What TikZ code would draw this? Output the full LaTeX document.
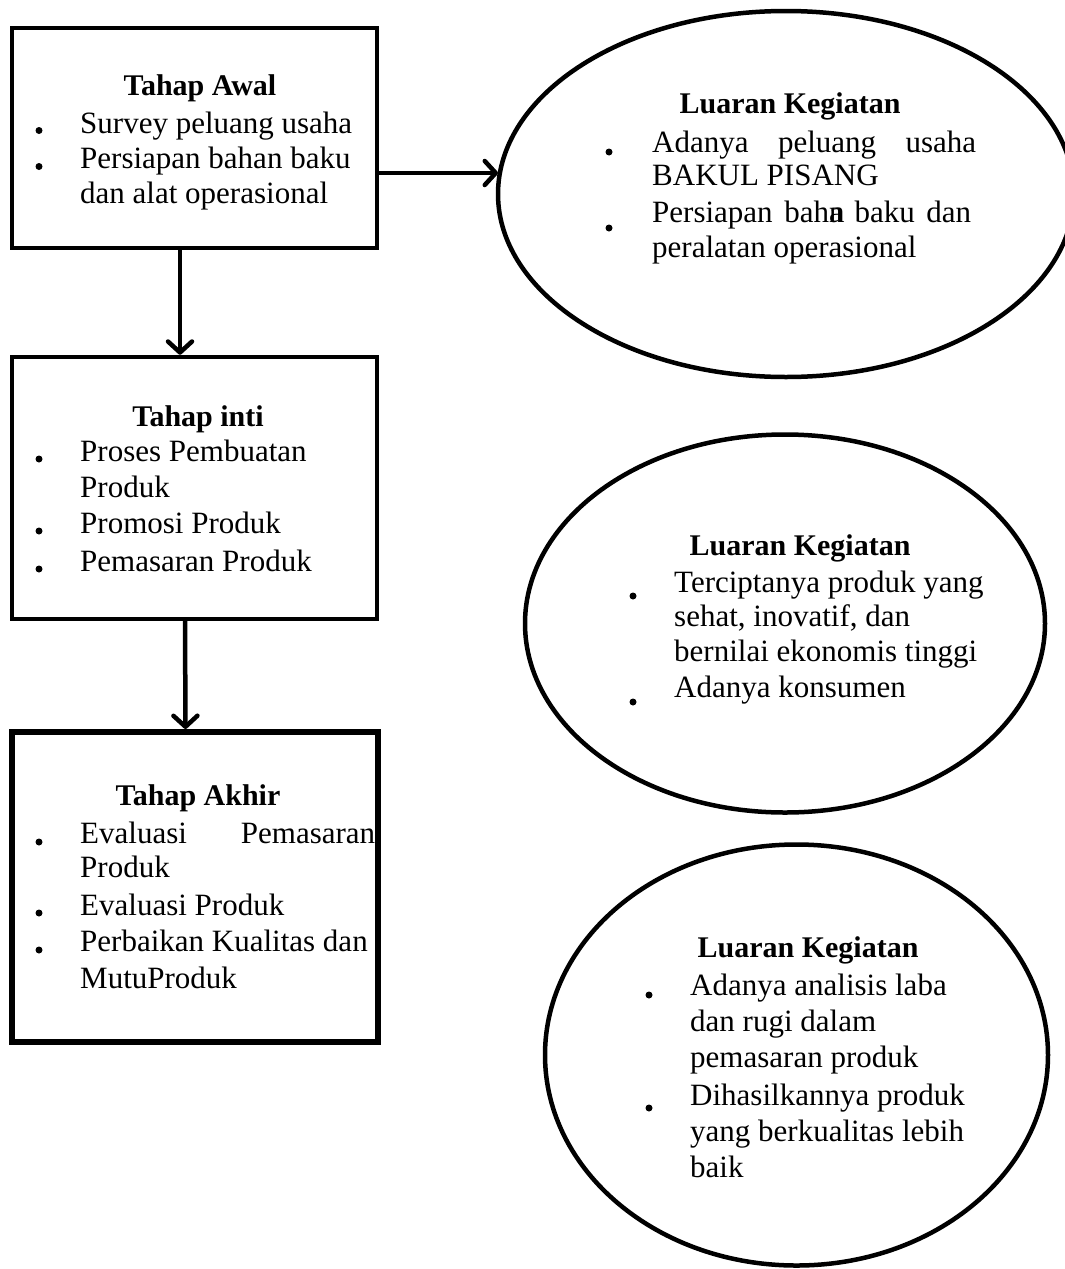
\documentclass[tikz,border=0pt]{standalone}
\usepackage{fontspec}
\setmainfont{Liberation Serif}
\usetikzlibrary{shapes.geometric,arrows.meta}
\newcommand{\bodyfnt}{\fontsize{31}{36}\selectfont}
\newcommand{\titlefnt}{\fontsize{30}{35}\selectfont\bfseries}
\newcommand{\spreadto}[2]{\makebox[#1][s]{#2}}
\begin{document}
\begin{tikzpicture}[x=1pt,y=-1pt,
  box/.style={draw, rectangle, line width=4.5pt, inner sep=0pt},
  oval/.style={draw, ellipse, line width=4.5pt, inner sep=0pt},
  ttl/.style={anchor=base, font=\titlefnt, inner sep=0pt},
  txt/.style={anchor=base west, font=\bodyfnt, inner sep=0pt},
  dot/.style={circle, fill=black, inner sep=0pt, minimum size=7pt},
  arr/.style={line width=4.5pt, line cap=round, -{Straight Barb[length=11pt, width=24pt, line cap=round, line join=round]}}]
\useasboundingbox (0,0) rectangle (1065,1269);

% boxes
\node[box, minimum width=365pt, minimum height=220pt] (b1) at (194.5,138) {};
\node[box, minimum width=365pt, minimum height=262pt] (b2) at (194.5,488) {};
\node[box, line width=6pt, minimum width=366pt, minimum height=310pt] (b3) at (195,887) {};

% ellipses
\node[oval, minimum width=576pt, minimum height=366pt] (e1) at (786,194) {};
\node[oval, minimum width=520pt, minimum height=378pt] (e2) at (785,623.5) {};
\node[oval, minimum width=503pt, minimum height=421pt] (e3) at (796.5,1055) {};

% connectors
\coordinate (a1) at (498,173);
\draw[arr] (b1.east |- a1) -- (a1);
\draw[arr] ([xshift=-14.5pt]b1.south) -- ([xshift=-14.5pt]b2.north);
\draw[arr] ([xshift=-9.5pt]b2.south) -- ([xshift=-9.5pt]b3.north);

% box 1 text
\node[ttl] (t1) at (200,95) {Tahap Awal};
\node[dot] (d11) at (39,130.5) {};
\node[txt] (l11) at (80,133) {Survey peluang usaha};
\node[dot] (d12) at (39,166.5) {};
\node[txt] (l12) at (80,168) {Persiapan bahan baku};
\node[txt] (l13) at (80,203) {dan alat operasional};

% box 2 text
\node[ttl] (t2) at (198,426) {Tahap inti};
\node[dot] (d21) at (39,459) {};
\node[txt] (l21) at (80,461) {Proses Pembuatan};
\node[txt] (l22) at (80,497) {Produk};
\node[dot] (d22) at (39,531) {};
\node[txt] (l23) at (80,533) {Promosi Produk};
\node[dot] (d23) at (39,569) {};
\node[txt] (l24) at (80,571) {Pemasaran Produk};

% box 3 text
\node[ttl] (t3) at (198,805) {Tahap Akhir};
\node[dot] (d31) at (39,842) {};
\node[txt] (l31) at (80,843) {\spreadto{295pt}{Evaluasi Pemasaran}};
\node[txt] (l32) at (80,877) {Produk};
\node[dot] (d32) at (39,913) {};
\node[txt] (l33) at (80,915) {Evaluasi Produk};
\node[dot] (d33) at (39,950) {};
\node[txt] (l34) at (80,951) {Perbaikan Kualitas dan};
\node[txt] (l35) at (80,988) {MutuProduk};

% ellipse 1 text
\node[ttl] (u1) at (790,113) {Luaran Kegiatan};
\node[dot] (f11) at (609,152) {};
\node[txt] (m11) at (652,152) {\spreadto{324pt}{Adanya peluang usaha}};
\node[txt] (m12) at (652,185) {BAKUL PISANG};
\node[dot] (f12) at (609,228) {};
\node[txt] (m13) at (652,222) {\spreadto{319pt}{Persiapan bah\rlap{n}a baku dan}};
\node[txt] (m14) at (652,257) {peralatan operasional};

% ellipse 2 text
\node[ttl] (u2) at (800,555) {Luaran Kegiatan};
\node[dot] (f21) at (633,596) {};
\node[txt] (m21) at (674,592) {Terciptanya produk yang};
\node[txt] (m22) at (674,626) {sehat, inovatif, dan};
\node[txt] (m23) at (674,661) {bernilai ekonomis tinggi};
\node[dot] (f22) at (633,702) {};
\node[txt] (m24) at (674,697) {Adanya konsumen};

% ellipse 3 text
\node[ttl] (u3) at (808,957) {Luaran Kegiatan};
\node[dot] (f31) at (649,995) {};
\node[txt] (m31) at (690,995) {Adanya analisis laba};
\node[txt] (m32) at (690,1031) {dan rugi dalam};
\node[txt] (m33) at (690,1067) {pemasaran produk};
\node[dot] (f32) at (649,1108) {};
\node[txt] (m34) at (690,1105) {Dihasilkannya produk};
\node[txt] (m35) at (690,1141) {yang berkualitas lebih};
\node[txt] (m36) at (690,1177) {baik};
\end{tikzpicture}
\end{document}
